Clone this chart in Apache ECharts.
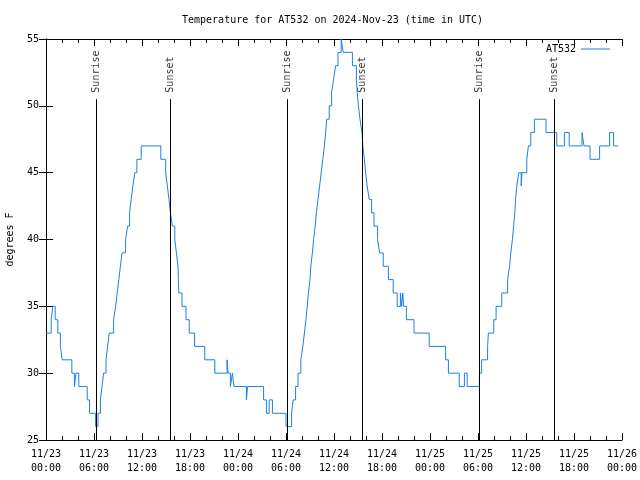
<!DOCTYPE html>
<html>
<head>
<meta charset="utf-8">
<script src="https://cdn.jsdelivr.net/npm/echarts@6/dist/echarts.min.js"></script>
<style>html,body{margin:0;padding:0;background:#fff;}#c{width:640px;height:480px;}</style>
</head>
<body>
<div id="c"></div>
<script>
// hours since 2024-11-23 00:00 UTC where the reading changes, and the reading (deg F)
const hours = [0,0.65,0.85,1.15,1.48,1.8,2.03,3.23,3.55,3.75,4.1,5.15,5.44,6.2,6.5,6.8,7.0,7.2,7.5,7.7,7.9,8.45,8.7,8.9,9.1,9.3,9.5,9.95,10.2,10.45,10.65,10.86,11.1,11.36,11.9,14.35,14.96,15.17,15.37,15.55,15.8,16.1,16.3,16.5,16.55,16.6,17.0,17.5,17.9,18.58,19.84,21.1,22.63,22.75,23.05,23.3,23.5,25.05,25.2,27.2,27.55,27.9,28.3,30.0,30.7,30.9,31.2,31.5,31.85,32.1,32.3,32.5,32.65,32.8,33.0,33.1,33.3,33.45,33.65,33.8,34.0,34.2,34.4,34.6,34.8,34.95,35.1,35.4,35.7,35.95,36.2,36.5,36.9,37.15,38.3,38.8,38.9,39.05,39.25,39.5,39.6,39.8,39.95,40.15,40.4,40.7,41.0,41.45,41.7,42.15,42.8,43.4,43.9,44.3,44.45,44.6,44.7,45.05,46.0,47.9,49.95,50.3,51.65,52.3,52.65,54.17,54.45,55.2,55.3,55.97,56.26,56.97,57.7,57.95,58.1,58.3,58.45,58.6,58.7,58.85,59.1,59.4,59.5,60.1,60.3,60.6,61.05,62.5,63.85,64.8,65.4,67.0,67.25,68.0,69.2,70.45,70.95,71.55];
const temps = [33,34,35,34,33,32,31,30,29,30,29,28,27,26,27,28,29,30,31,32,33,34,35,36,37,38,39,40,41,42,43,44,45,46,47,46,45,44,43,42,41,40,39,38,37,36,35,34,33,32,31,30,31,30,29,30,29,28,29,28,27,28,27,26,27,28,29,30,31,32,33,34,35,36,37,38,39,40,41,42,43,44,45,46,47,48,49,50,51,52,53,54,55,54,53,52,51,50,49,48,47,46,45,44,43,42,41,40,39,38,37,36,35,36,35,36,35,34,33,32,31,30,29,30,29,30,31,32,33,34,35,36,37,38,39,40,41,42,43,44,45,44,45,46,47,48,49,48,47,48,47,48,47,46,47,48,47,47];

const sunNames = ['Sunrise','Sunset','Sunrise','Sunset','Sunrise','Sunset'];
const sunHours = [6.23, 15.5, 30.1, 39.53, 54.17, 63.55];
const sunLineTop = 50.5;

const xTickLabels = ['11/23\n00:00','11/23\n06:00','11/23\n12:00','11/23\n18:00','11/24\n00:00','11/24\n06:00','11/24\n12:00','11/24\n18:00','11/25\n00:00','11/25\n06:00','11/25\n12:00','11/25\n18:00','11/26\n00:00'];
const seriesName = 'AT532';
const titleText = 'Temperature for AT532 on 2024-Nov-23 (time in UTC)';
const yName = 'degrees F';

const FONT = 'DejaVu Sans Mono';
const LINE_COLOR = '#1a80e8';

const data = hours.map((h, i) => [h, temps[i]]);

const baseX = {
  type: 'value', min: 0, max: 72, interval: 6,
  splitLine: { show: false },
  axisLine: { show: true, lineStyle: { color: '#000', width: 1 } },
  axisTick: { show: true, inside: true, length: 7, lineStyle: { color: '#000' } },
  minorTick: { show: true, splitNumber: 3, length: 4, lineStyle: { color: '#000' } },
  minorSplitLine: { show: false }
};
const baseY = {
  type: 'value', min: 25, max: 55, interval: 5,
  splitLine: { show: false },
  axisLine: { show: true, lineStyle: { color: '#000', width: 1 } },
  axisTick: { show: true, inside: true, length: 7, lineStyle: { color: '#000' } }
};

const chart = echarts.init(document.getElementById('c'), null, { renderer: 'canvas' });
chart.setOption({
  animation: false,
  backgroundColor: '#fff',
  title: {
    text: titleText, left: 182, top: 15, padding: 0,
    textStyle: { fontFamily: FONT, fontSize: 10, fontWeight: 'normal', color: '#000' }
  },
  legend: {
    data: [{ name: seriesName, icon: 'rect' }], right: 30, top: 44, padding: 0, align: 'right',
    itemWidth: 29, itemHeight: 1, itemGap: 0,
    itemStyle: { color: LINE_COLOR },
    textStyle: { fontFamily: FONT, fontSize: 10, color: '#000' }
  },
  grid: { left: 46, right: 18, top: 39, bottom: 40, show: false, containLabel: false, outerBoundsMode: 'none' },
  xAxis: [
    Object.assign({}, baseX, {
      position: 'bottom',
      axisLabel: {
        fontFamily: FONT, fontSize: 10, color: '#000', lineHeight: 14, margin: 7,
        formatter: v => xTickLabels[Math.round(v / 6)]
      }
    }),
    Object.assign({}, baseX, { position: 'top', axisLabel: { show: false } })
  ],
  yAxis: [
    Object.assign({}, baseY, {
      position: 'left',
      name: yName, nameLocation: 'middle', nameRotate: 90, nameGap: 31,
      nameTextStyle: { fontFamily: FONT, fontSize: 10, color: '#000' },
      axisLabel: { fontFamily: FONT, fontSize: 10, color: '#000', margin: 7 }
    }),
    Object.assign({}, baseY, { position: 'right', axisLabel: { show: false } })
  ],
  series: [
    {
      name: seriesName, type: 'line', data: data, step: 'end',
      symbol: 'none', showSymbol: false,
      lineStyle: { color: LINE_COLOR, width: 1 },
      itemStyle: { color: LINE_COLOR },
      markLine: {
        silent: true, symbol: ['none', 'none'],
        label: { show: false },
        lineStyle: { color: '#000', width: 1, type: 'solid' },
        data: sunHours.map(h => [{ coord: [h, 25] }, { coord: [h, sunLineTop] }])
      }
    },
    {
      name: 'sunlabels', type: 'scatter', silent: true,
      symbolSize: 1, itemStyle: { color: 'rgba(0,0,0,0)' },
      data: sunHours.map((h, i) => ({ value: [h, sunLineTop], name: sunNames[i] })),
      label: {
        show: true, formatter: p => p.name, rotate: 90,
        position: [1, -6], align: 'left', verticalAlign: 'middle',
        fontFamily: FONT, fontSize: 10, color: '#000'
      }
    }
  ]
});
</script>
</body>
</html>
